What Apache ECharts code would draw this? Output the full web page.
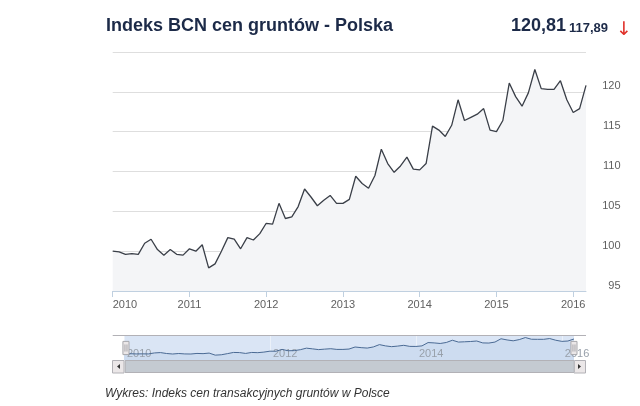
<!DOCTYPE html>
<html>
<head>
<meta charset="utf-8">
<script src="https://cdn.jsdelivr.net/npm/echarts@6/dist/echarts.min.js"></script>
<style>
  html, body { margin: 0; padding: 0; background: #fff; }
  #chart { width: 640px; height: 406px; }
</style>
</head>
<body>
<div id="chart"></div>
<script>
// monthly index values
var years = ['2010', '2011', '2012', '2013', '2014', '2015', '2016'];
var months = ['01', '02', '03', '04', '05', '06', '07', '08', '09', '10', '11', '12'];
var values2010 = [100.0, 99.9, 99.6, 99.7, 99.6, 101.0, 101.5, 100.2, 99.5, 100.2, 99.6, 99.5];
var values2011 = [100.3, 100.0, 100.8, 97.9, 98.4, 100.0, 101.7, 101.5, 100.3, 101.7, 101.4, 102.2];
var values2012 = [103.5, 103.4, 106.0, 104.1, 104.3, 105.6, 107.8, 106.8, 105.7, 106.4, 107.0, 106.0];
var values2013 = [106.0, 106.5, 109.4, 108.5, 107.9, 109.5, 112.8, 111.0, 109.9, 110.7, 111.8, 110.3];
var values2014 = [110.2, 111.0, 115.7, 115.2, 114.4, 115.8, 119.0, 116.4, 116.8, 117.2, 117.9, 115.2];
var values2015 = [115.0, 116.4, 121.1, 119.4, 118.2, 119.9, 122.8, 120.4, 120.3, 120.3, 121.4, 119.0];
var values2016 = [117.4, 117.89, 120.81];
var yTicks = [95, 100, 105, 110, 115, 120];

var lastValue = '120,81';
var prevValue = '117,89';

var perYear = [values2010, values2011, values2012, values2013, values2014, values2015, values2016];
var categories = [];
var values = [];
for (var i = 0; i < years.length; i++) {
    for (var j = 0; j < perYear[i].length; j++) {
        categories.push(years[i] + '-' + months[j]);
        values.push(perYear[i][j]);
    }
}

var font = 'Liberation Sans, Arial, sans-serif';
var yearOnly = function (v) { return v.slice(0, 4); };
var everyYear = function (idx) { return idx % 12 === 0; };
var everyTwoYears = function (idx) { return idx % 24 === 0; };

var chart = echarts.init(document.getElementById('chart'));
chart.setOption({
    animation: false,
    textStyle: { fontFamily: font },
    grid: [
        { left: 112.7, right: 54, top: 52, bottom: 115, outerBoundsMode: 'none' },
        // navigator strip
        { left: 124, width: 450, top: 336, height: 24, outerBoundsMode: 'none',
          show: true, backgroundColor: '#dae5f5', borderWidth: 0 }
    ],
    xAxis: [
        {
            type: 'category',
            data: categories,
            boundaryGap: false,
            axisLine: { lineStyle: { color: '#c0d0e0' } },
            axisTick: { interval: everyYear, length: 6, lineStyle: { color: '#c0d0e0' } },
            axisLabel: {
                interval: everyYear,
                formatter: yearOnly,
                color: '#606060',
                fontSize: 11,
                margin: 8,
                alignMinLabel: 'left'
            },
            splitLine: { show: false }
        },
        {
            type: 'category',
            gridIndex: 1,
            z: 3,
            data: categories,
            boundaryGap: false,
            axisLine: { show: false },
            axisTick: { show: false },
            axisLabel: {
                inside: true,
                interval: everyTwoYears,
                formatter: yearOnly,
                color: '#98a0aa',
                fontSize: 11,
                margin: 1,
                align: 'left',
                verticalAlign: 'bottom',
                padding: [0, 0, 0, 3]
            },
            splitLine: { show: true, interval: everyTwoYears, lineStyle: { color: 'rgba(255,255,255,0.45)' } }
        }
    ],
    yAxis: [
        {
            type: 'value',
            position: 'right',
            min: yTicks[0],
            max: 125,
            interval: 5,
            axisLine: { show: false },
            axisTick: { show: false },
            axisLabel: {
                showMaxLabel: false,
                color: '#606060',
                fontSize: 11,
                align: 'right',
                margin: 34.5,
                verticalAlign: 'bottom',
                lineHeight: 11
            },
            splitLine: { lineStyle: { color: '#dedede', width: 1 } }
        },
        { type: 'value', gridIndex: 1, min: 91, max: 125, show: false }
    ],
    dataZoom: [
        {
            type: 'slider',
            xAxisIndex: 0,
            left: 124,
            width: 450,
            top: 336,
            height: 24,
            start: 0,
            end: 100,
            showDataShadow: false,
            showDetail: false,
            brushSelect: false,
            moveHandleSize: 0,
            borderColor: 'transparent',
            borderRadius: 0,
            backgroundColor: 'transparent',
            fillerColor: 'rgba(0,0,0,0)',
            handleIcon: 'path://M0,0 L6,0 L6,13 L0,13 Z M2,3 L2,10 M4,3 L4,10',
            handleSize: '55%',
            handleStyle: { color: '#ebe7e8', borderColor: '#a8a8ad', borderWidth: 1 }
        },
        {
            type: 'slider',
            xAxisIndex: 0,
            left: 124,
            width: 450,
            top: 360,
            height: 13,
            start: 0,
            end: 100,
            showDataShadow: false,
            showDetail: false,
            brushSelect: false,
            moveHandleSize: 0,
            borderColor: '#b2b1b6',
            borderRadius: 0,
            backgroundColor: '#eeeeee',
            fillerColor: '#c4cad1',
            handleSize: 1,
            handleStyle: { opacity: 0 }
        }
    ],
    graphic: [
        { type: 'text', left: 106, top: 17, style: { text: 'Indeks BCN cen gruntów - Polska', font: 'bold 18px ' + font, fill: '#1c2a48' } },
        { type: 'text', left: 511, top: 17, style: { text: lastValue, font: 'bold 18px ' + font, fill: '#1c2a48' } },
        { type: 'text', left: 569, top: 22, style: { text: prevValue, font: 'bold 13px ' + font, fill: '#1c2a48' } },
        { type: 'text', left: 616, top: 21, style: { text: '↓', font: '19px DejaVu Sans', fill: '#e0312a' } },
        { type: 'text', left: 105, top: 388, style: { text: 'Wykres: Indeks cen transakcyjnych gruntów w Polsce', font: 'italic 12px ' + font, fill: '#333333' } },
        { type: 'line', shape: { x1: 112.7, y1: 335.5, x2: 586, y2: 335.5 }, style: { stroke: '#b2b1b6', lineWidth: 1 } },
        { type: 'rect', shape: { x: 112.5, y: 360.5, width: 11.5, height: 12.5 }, style: { fill: '#ebe7e8', stroke: '#b2b1b6', lineWidth: 1 } },
        { type: 'polygon', shape: { points: [[120, 364], [120, 369], [117, 366.5]] }, style: { fill: '#333333' } },
        { type: 'rect', shape: { x: 574, y: 360.5, width: 11.5, height: 12.5 }, style: { fill: '#ebe7e8', stroke: '#b2b1b6', lineWidth: 1 } },
        { type: 'polygon', shape: { points: [[578, 364], [578, 369], [581, 366.5]] }, style: { fill: '#333333' } },
        { type: 'line', shape: { x1: 346.5, y1: 364, x2: 346.5, y2: 370 }, style: { stroke: '#555555', lineWidth: 1 } },
        { type: 'line', shape: { x1: 349.5, y1: 364, x2: 349.5, y2: 370 }, style: { stroke: '#555555', lineWidth: 1 } },
        { type: 'line', shape: { x1: 352.5, y1: 364, x2: 352.5, y2: 370 }, style: { stroke: '#555555', lineWidth: 1 } }
    ],
    series: [
        {
            name: 'Indeks BCN',
            type: 'line',
            data: values,
            symbol: 'none',
            silent: true,
            lineStyle: { color: '#3a3f48', width: 1.3 },
            areaStyle: { color: '#f4f5f7', opacity: 1 }
        },
        {
            name: 'Nawigator',
            type: 'line',
            xAxisIndex: 1,
            yAxisIndex: 1,
            data: values,
            symbol: 'none',
            silent: true,
            lineStyle: { color: '#4a6a94', width: 1 },
            areaStyle: { color: '#cddcf0', opacity: 1 }
        }
    ]
});
</script>
</body>
</html>
